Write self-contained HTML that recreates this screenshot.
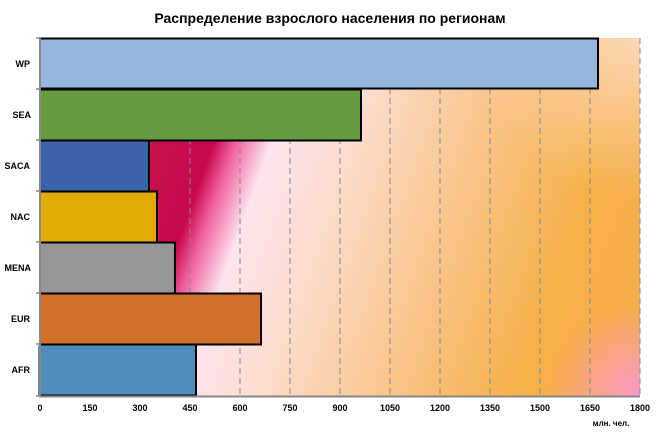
<!DOCTYPE html>
<html><head><meta charset="utf-8"><style>
html,body{margin:0;padding:0;background:#fff;}
svg{display:block;font-family:"Liberation Sans",sans-serif;}
</style></head><body>
<svg width="660" height="432" viewBox="0 0 660 432" xmlns="http://www.w3.org/2000/svg">
<defs>
<linearGradient id="bg" gradientUnits="userSpaceOnUse" x1="47" y1="17" x2="693" y2="247">
<stop offset="0" stop-color="#b02868"/>
<stop offset="0.22" stop-color="#c81050"/>
<stop offset="0.29" stop-color="#c8084c"/>
<stop offset="0.32" stop-color="#f060a0"/>
<stop offset="0.37" stop-color="#fde4ee"/>
<stop offset="0.48" stop-color="#fcdccc"/>
<stop offset="0.66" stop-color="#f9c488"/>
<stop offset="0.83" stop-color="#f6b048"/>
<stop offset="1" stop-color="#f6ac50"/>
</linearGradient>
<radialGradient id="pk" gradientUnits="userSpaceOnUse" cx="640" cy="396" r="90">
<stop offset="0" stop-color="#f898c8" stop-opacity="1"/>
<stop offset="1" stop-color="#f898c8" stop-opacity="0"/>
</radialGradient>
<radialGradient id="tr" gradientUnits="userSpaceOnUse" cx="640" cy="38" r="160">
<stop offset="0" stop-color="#fcdcc4" stop-opacity="0.9"/>
<stop offset="1" stop-color="#fcdcc4" stop-opacity="0"/>
</radialGradient>
</defs>
<text x="330" y="23" text-anchor="middle" font-size="14" font-weight="bold" fill="#000">Распределение взрослого населения по регионам</text>
<rect x="40" y="38" width="600" height="358" fill="url(#bg)"/>
<rect x="40" y="38" width="600" height="358" fill="url(#tr)"/>
<rect x="40" y="38" width="600" height="358" fill="url(#pk)"/>
<g stroke="#888" stroke-width="1" stroke-dasharray="6,4">
<line x1="90" y1="38" x2="90" y2="396"/><line x1="140" y1="38" x2="140" y2="396"/>
<line x1="190" y1="38" x2="190" y2="396"/><line x1="240" y1="38" x2="240" y2="396"/>
<line x1="290" y1="38" x2="290" y2="396"/><line x1="340" y1="38" x2="340" y2="396"/>
<line x1="390" y1="38" x2="390" y2="396"/><line x1="440" y1="38" x2="440" y2="396"/>
<line x1="490" y1="38" x2="490" y2="396"/><line x1="540" y1="38" x2="540" y2="396"/>
<line x1="590" y1="38" x2="590" y2="396"/><line x1="640" y1="38" x2="640" y2="396"/>
</g>
<g stroke="#000" stroke-width="2">
<rect x="40" y="38.5" width="558" height="50" fill="#97b8de"/>
<rect x="40" y="89.5" width="321" height="51" fill="#639b3e"/>
<rect x="40" y="140.5" width="109" height="51" fill="#3a63ac"/>
<rect x="40" y="191.5" width="117" height="51" fill="#e1aa00"/>
<rect x="40" y="242.5" width="135" height="51" fill="#969696"/>
<rect x="40" y="293.5" width="221" height="51" fill="#d2702b"/>
<rect x="40" y="344.5" width="156" height="51" fill="#528bbd"/>
</g>
<rect x="38" y="345.5" width="2" height="50" fill="#528bbd"/>
<g stroke="#888" stroke-width="2">
<line x1="40" y1="37" x2="40" y2="397"/>
<line x1="39" y1="396.5" x2="640" y2="396.5"/>
</g>
<g stroke="#888" stroke-width="1.5">
<line x1="36" y1="38" x2="40" y2="38"/><line x1="36" y1="89" x2="40" y2="89"/>
<line x1="36" y1="140" x2="40" y2="140"/><line x1="36" y1="191" x2="40" y2="191"/>
<line x1="36" y1="242" x2="40" y2="242"/><line x1="36" y1="293" x2="40" y2="293"/>
<line x1="36" y1="344" x2="40" y2="344"/><line x1="36" y1="396" x2="40" y2="396"/>
</g>
<g font-size="9" font-weight="bold" fill="#000" text-anchor="end">
<text x="30" y="67">WP</text><text x="31" y="118">SEA</text><text x="30" y="169">SACA</text>
<text x="30" y="220">NAC</text><text x="31" y="271">MENA</text><text x="30" y="322">EUR</text><text x="30" y="373">AFR</text>
</g>
<g font-size="9" font-weight="bold" fill="#000" text-anchor="middle">
<text x="40" y="411">0</text><text x="90" y="411">150</text><text x="140" y="411">300</text>
<text x="190" y="411">450</text><text x="240" y="411">600</text><text x="290" y="411">750</text>
<text x="340" y="411">900</text><text x="390" y="411">1050</text><text x="440" y="411">1200</text>
<text x="490" y="411">1350</text><text x="540" y="411">1500</text><text x="590" y="411">1650</text>
<text x="640" y="411">1800</text>
</g>
<text x="611" y="426" font-size="8" font-weight="bold" text-anchor="middle" fill="#000">млн. чел.</text>
</svg>
</body></html>
